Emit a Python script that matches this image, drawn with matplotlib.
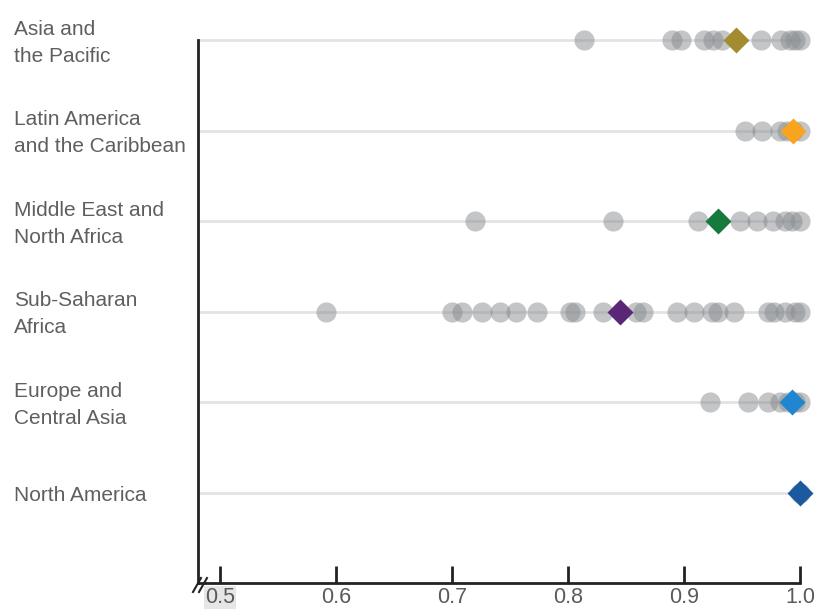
import matplotlib
matplotlib.use('Agg')
import matplotlib.pyplot as plt
import matplotlib.transforms as mtransforms

regions = ['Asia and\nthe Pacific', 'Latin America\nand the Caribbean',
           'Middle East and\nNorth Africa', 'Sub-Saharan\nAfrica',
           'Europe and\nCentral Asia', 'North America']

# country values per region (grey dots)
asia = [0.814, 0.890, 0.897, 0.917, 0.925, 0.933, 0.966, 0.984, 0.991, 0.996, 1.0]
latam = [0.953, 0.967, 0.983, 0.989, 0.994, 1.0]
mena = [0.720, 0.839, 0.912, 0.948, 0.963, 0.977, 0.987, 0.993, 1.0]
ssa = [0.591, 0.700, 0.709, 0.726, 0.741, 0.755, 0.773, 0.802, 0.806, 0.830,
       0.859, 0.865, 0.894, 0.909, 0.924, 0.929, 0.943, 0.972, 0.978, 0.987,
       0.996, 1.0]
europe = [0.922, 0.955, 0.972, 0.983, 0.990, 0.996, 1.0]
namerica = [1.0]
country_values = [asia, latam, mena, ssa, europe, namerica]

# regional averages (diamonds)
averages = [0.945, 0.994, 0.929, 0.845, 0.993, 1.0]
avg_colors = ['#a38b2f', '#f7a51e', '#177a3d', '#5a2777', '#1f86cf', '#1b5a9e']

xticks = [0.5, 0.6, 0.7, 0.8, 0.9, 1.0]
xticklabels = ['0.5', '0.6', '0.7', '0.8', '0.9', '1.0']

plt.rcParams['font.family'] = ['Liberation Sans', 'DejaVu Sans']

fig = plt.figure(figsize=(8.14, 6.14), dpi=100)
ax = fig.add_axes([198/814, 1-583/614, 602/814, 543/614])

xmin, xmax = 0.481, 1.0
ax.set_xlim(xmin, xmax)
ax.set_ylim(6, 0)

for i, vals in enumerate(country_values):
    ax.plot([xmin, xmax], [i, i], color='#e3e3e3', lw=2, zorder=1, clip_on=False)
    ax.plot(vals, [i]*len(vals), 'o', ms=14.5, color='#898c91', alpha=0.5,
            mec='none', zorder=2, clip_on=False)
    ax.plot(averages[i], i, 'D', ms=13.5, color=avg_colors[i], mec='none',
            zorder=3, clip_on=False)

for spine in ['top', 'right']:
    ax.spines[spine].set_visible(False)
for spine in ['left', 'bottom']:
    ax.spines[spine].set_linewidth(2)
    ax.spines[spine].set_color('#222222')

ax.set_yticks([])
ax.set_xticks(xticks)
ax.set_xticklabels(xticklabels)
ax.tick_params(axis='x', direction='in', length=12, width=2, color='#222222',
               labelsize=15.5, labelcolor='#5a5a5a', pad=3)
ax.get_xticklabels()[0].set_bbox(dict(facecolor='#e6e6e6', edgecolor='none', pad=1))

# region labels on the left
trans = mtransforms.blended_transform_factory(fig.transFigure, ax.transData)
for i, name in enumerate(regions):
    ax.text(14/814, i + 0.03, name, transform=trans, ha='left', va='center',
            fontsize=15, color='#5f5f5f', linespacing=1.55)

# axis break marks
for dx in [0, 6]:
    ax.plot([(193+dx)/814, (201+dx)/814], [1-592/614, 1-578/614],
            transform=fig.transFigure, color='#222222', lw=1.5, clip_on=False)

fig.savefig('out.png', dpi=100)
